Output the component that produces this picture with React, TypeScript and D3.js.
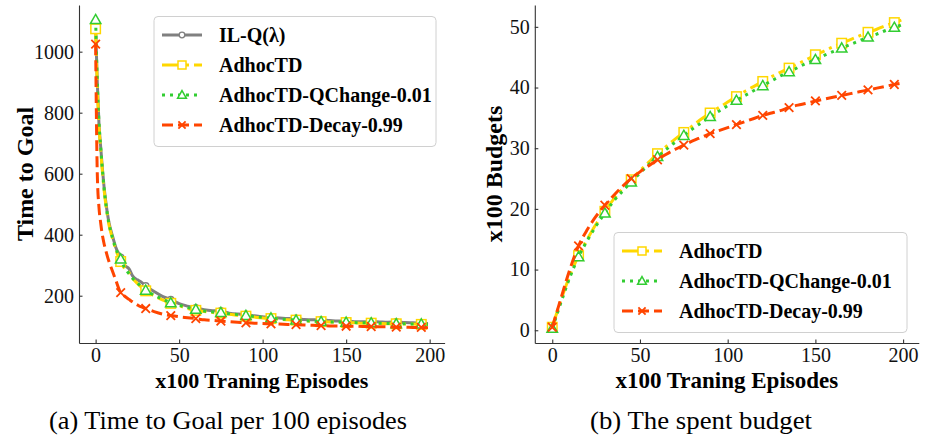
import * as React from "react";
import * as d3 from "d3";

// x100 training episodes
const episodesA: number[] = [0, 1, 2, 3, 4, 5, 6, 7, 8, 10, 12, 15, 17, 20, 22, 25, 27, 30, 35, 40, 45, 50, 55, 60, 65, 70, 75, 80, 85, 90, 95, 100, 105, 110, 115, 120, 125, 130, 135, 140, 145, 150, 155, 160, 165, 170, 175, 180, 185, 190, 195, 199];
const ilqTime: number[] = [1080, 900, 765, 690, 620, 560, 512, 472, 440, 398, 360, 326, 302, 288, 266, 252, 246, 232, 214, 198, 187, 174, 166, 160, 154, 151, 150, 143, 140, 139, 134, 131, 128, 127, 125, 126, 122, 121, 121, 119, 117, 117, 115, 115, 115, 114, 113, 114, 112, 111, 110, 109];
const adhocTime: number[] = [1075, 890, 755, 680, 610, 550, 503, 465, 432, 390, 352, 312, 292, 276, 258, 240, 230, 216, 200, 186, 175, 167, 158, 152, 148, 145, 143, 139, 136, 133, 130, 127, 125, 123, 121, 120, 118, 116, 115, 114, 113, 112, 111, 110, 110, 109, 108, 108, 107, 107, 106, 106];
const qchangeTime: number[] = [1105, 905, 770, 690, 618, 556, 507, 468, 436, 392, 356, 320, 296, 272, 258, 242, 232, 218, 202, 189, 177, 169, 161, 155, 150, 147, 145, 141, 138, 135, 132, 129, 127, 124, 122, 120, 118, 117, 115, 114, 114, 113, 112, 111, 111, 110, 109, 108, 108, 107, 107, 106];
const decayTime: number[] = [1025, 600, 490, 440, 400, 372, 350, 330, 312, 282, 252, 210, 200, 188, 180, 170, 164, 158, 148, 140, 135, 131, 128, 125, 121, 119, 117, 115, 113, 111, 110, 109, 108, 107, 106, 105, 104, 103, 102, 101, 101, 100, 100, 99, 99, 98, 98, 97, 97, 96, 96, 95];

// right panel
const episodesB: number[] = [0, 5, 10, 15, 20, 25, 30, 35, 40, 45, 50, 55, 60, 65, 70, 75, 80, 85, 90, 95, 100, 105, 110, 115, 120, 125, 130, 135, 140, 145, 150, 155, 160, 165, 170, 175, 180, 185, 190, 195, 199];
const adhocBudget: number[] = [0.5, 5.0, 9.0, 12.3, 15.0, 17.5, 19.6, 21.6, 23.3, 24.8, 26.3, 27.7, 29.1, 30.3, 31.5, 32.6, 33.7, 34.8, 35.8, 36.7, 37.6, 38.5, 39.4, 40.2, 41.0, 41.8, 42.5, 43.2, 43.9, 44.6, 45.4, 46.0, 46.7, 47.3, 47.9, 48.5, 49.1, 49.6, 50.2, 50.7, 51.1];
const qchangeBudget: number[] = [0.3, 4.6, 8.7, 12.1, 14.8, 17.2, 19.3, 21.3, 22.9, 24.4, 25.9, 27.3, 28.6, 29.8, 31.0, 32.1, 33.2, 34.2, 35.2, 36.1, 37.0, 37.9, 38.7, 39.5, 40.3, 41.1, 41.9, 42.6, 43.3, 44.0, 44.6, 45.3, 45.9, 46.5, 47.1, 47.7, 48.3, 48.8, 49.4, 49.9, 50.3];
const decayBudget: number[] = [0.5, 5.3, 10.0, 13.9, 16.6, 18.8, 20.6, 22.2, 23.7, 25.0, 26.1, 27.1, 28.1, 29.0, 29.8, 30.5, 31.2, 31.8, 32.4, 32.9, 33.4, 33.9, 34.4, 34.9, 35.4, 35.8, 36.2, 36.7, 37.1, 37.4, 37.8, 38.1, 38.4, 38.7, 39.0, 39.3, 39.6, 39.9, 40.2, 40.5, 40.7];

const xTicks: number[] = [0, 50, 100, 150, 200];
const timeTicks: number[] = [200, 400, 600, 800, 1000];
const budgetTicks: number[] = [0, 10, 20, 30, 40, 50];

type Marker = "circle" | "square" | "triangle" | "cross";

interface Series {
  name: string;
  color: string;
  dash: string | null;
  marker: Marker;
  values: number[];
}

const FONT = "Liberation Serif, Tinos, Times New Roman, DejaVu Serif, serif";

const seriesA: Series[] = [
  { name: "IL-Q(λ)", color: "#808080", dash: null, marker: "circle", values: ilqTime },
  { name: "AdhocTD", color: "#FFD700", dash: "19,5,3,5", marker: "square", values: adhocTime },
  { name: "AdhocTD-QChange-0.01", color: "#32CD32", dash: "3,5", marker: "triangle", values: qchangeTime },
  { name: "AdhocTD-Decay-0.99", color: "#FF4500", dash: "11,5", marker: "cross", values: decayTime }
];

const seriesB: Series[] = [
  { name: "AdhocTD", color: "#FFD700", dash: "19,5,3,5", marker: "square", values: adhocBudget },
  { name: "AdhocTD-QChange-0.01", color: "#32CD32", dash: "3,5", marker: "triangle", values: qchangeBudget },
  { name: "AdhocTD-Decay-0.99", color: "#FF4500", dash: "11,5", marker: "cross", values: decayBudget }
];

type G = d3.Selection<SVGGElement, unknown, null, undefined>;

function drawMarker(g: G, kind: Marker, x: number, y: number, color: string, s: number): void {
  if (kind === "circle") {
    g.append("circle").attr("cx", x).attr("cy", y).attr("r", s * 0.4)
      .attr("fill", "white").attr("stroke", color).attr("stroke-width", 1.3);
  } else if (kind === "square") {
    g.append("rect").attr("x", x - s / 2).attr("y", y - s / 2).attr("width", s).attr("height", s)
      .attr("fill", "white").attr("stroke", color).attr("stroke-width", 1.5);
  } else if (kind === "triangle") {
    const h: number = s * 0.55;
    g.append("path")
      .attr("d", `M${x},${y - h} L${x + h},${y + h * 0.75} L${x - h},${y + h * 0.75} Z`)
      .attr("fill", "white").attr("stroke", color).attr("stroke-width", 1.5);
  } else {
    const h: number = s * 0.45;
    g.append("path")
      .attr("d", `M${x - h},${y - h} L${x + h},${y + h} M${x - h},${y + h} L${x + h},${y - h}`)
      .attr("fill", "none").attr("stroke", color).attr("stroke-width", 1.8);
  }
}

interface PanelSpec {
  xs: number[];
  series: Series[];
  xRange: [number, number];
  yDomain: [number, number];
  yTicks: number[];
  yLabel: string;
  yLabelX: number;
  xLabelSize: number;
  legend: { x: number; y: number; w: number; h: number };
  caption: string;
  captionX: number;
  captionLen: number;
}

function drawPanel(svg: d3.Selection<SVGSVGElement, unknown, null, undefined>, p: PanelSpec): void {
  const top: number = 5;
  const bottom: number = 343;
  const x = d3.scaleLinear().domain([-9.95, 208.95]).range(p.xRange);
  const y = d3.scaleLinear().domain(p.yDomain).range([bottom, top]);
  const g: G = svg.append("g");

  // lines + markers
  p.series.forEach((s: Series) => {
    const pts: [number, number][] = p.xs.map((v: number, i: number) => [v, s.values[i]]);
    const line = d3.line<[number, number]>().x((d) => x(d[0])).y((d) => y(d[1])).curve(d3.curveMonotoneX);
    g.append("path").attr("d", line(pts) as string)
      .attr("fill", "none").attr("stroke", s.color).attr("stroke-width", 3)
      .attr("stroke-dasharray", s.dash)
      .attr("stroke-linejoin", "round");
    pts.filter((d) => d[0] % 15 === 0).forEach((d) => {
      drawMarker(g, s.marker, x(d[0]), y(d[1]), s.color, s.marker === "circle" ? 8 : 9.5);
    });
  });

  // axes
  const xAxis = d3.axisBottom(x).tickValues(xTicks).tickFormat(d3.format("d"))
    .tickSizeInner(-3.5).tickSizeOuter(0).tickPadding(5);
  const yAxis = d3.axisLeft(y).tickValues(p.yTicks).tickFormat(d3.format("d"))
    .tickSizeInner(-3.5).tickSizeOuter(0).tickPadding(5);
  const ax = g.append("g").attr("transform", `translate(0,${bottom})`).call(xAxis);
  const ay = g.append("g").attr("transform", `translate(${p.xRange[0]},0)`).call(yAxis);
  [ax, ay].forEach((a) => {
    a.attr("font-family", null);
    a.selectAll("path, line").attr("stroke", "#333").attr("stroke-width", 1.1);
    a.selectAll("text").style("font-family", FONT).style("font-size", "20px").attr("fill", "#111");
  });

  const cx: number = (p.xRange[0] + p.xRange[1]) / 2;
  g.append("text").attr("x", cx).attr("y", 388).attr("text-anchor", "middle")
    .style("font-family", FONT).style("font-weight", "bold").style("font-size", `${p.xLabelSize}px`)
    .text("x100 Traning Episodes");
  g.append("text").attr("transform", `translate(${p.yLabelX},${(top + bottom) / 2}) rotate(-90)`)
    .attr("text-anchor", "middle")
    .style("font-family", FONT).style("font-weight", "bold").style("font-size", "24px")
    .text(p.yLabel);

  // legend
  const L = p.legend;
  const lg: G = g.append("g");
  lg.append("rect").attr("x", L.x).attr("y", L.y).attr("width", L.w).attr("height", L.h)
    .attr("rx", 4).attr("fill", "white").attr("fill-opacity", 0.8)
    .attr("stroke", "#d0d0d0").attr("stroke-width", 1);
  p.series.forEach((s: Series, i: number) => {
    const ry: number = L.y + 18.5 + i * 30;
    const hx: number = L.x + 8;
    lg.append("line").attr("x1", hx).attr("x2", hx + 40).attr("y1", ry).attr("y2", ry)
      .attr("stroke", s.color).attr("stroke-width", 3).attr("stroke-dasharray", s.dash);
    drawMarker(lg, s.marker, hx + 20, ry, s.color, s.marker === "circle" ? 7 : 8);
    lg.append("text").attr("x", hx + 57).attr("y", ry).attr("dy", "0.35em")
      .style("font-family", FONT).style("font-weight", "bold").style("font-size", "20px")
      .text(s.name);
  });

  svg.append("text").attr("x", p.captionX).attr("y", 429).attr("text-anchor", "middle")
    .style("font-family", FONT).style("font-size", "25px")
    .attr("textLength", p.captionLen).attr("lengthAdjust", "spacingAndGlyphs")
    .text(p.caption);
}

export default class App extends React.PureComponent {
  private ref: React.RefObject<SVGSVGElement | null> = React.createRef<SVGSVGElement>();

  public componentDidMount(): void {
    this.drawChart();
  }

  public render(): JSX.Element {
    return <svg ref={this.ref} width={926} height={438}
      style={{ position: "absolute", left: 0, top: 0, background: "white" }} />;
  }

  private drawChart(): void {
    if (!this.ref.current) return;
    const svg = d3.select(this.ref.current);
    svg.selectAll("*").remove();

    drawPanel(svg, {
      xs: episodesA,
      series: seriesA,
      xRange: [79, 444.6],
      yDomain: [45, 1153],
      yTicks: timeTicks,
      yLabel: "Time to Goal",
      yLabelX: 33,
      xLabelSize: 22,
      legend: { x: 154, y: 16.5, w: 282, h: 130 },
      caption: "(a) Time to Goal per 100 episodes",
      captionX: 228,
      captionLen: 358
    });

    drawPanel(svg, {
      xs: episodesB,
      series: seriesB,
      xRange: [534.8, 918.8],
      yDomain: [-2.1, 53.6],
      yTicks: budgetTicks,
      yLabel: "x100 Budgets",
      yLabelX: 502,
      xLabelSize: 23,
      legend: { x: 614, y: 232.5, w: 293, h: 100 },
      caption: "(b) The spent budget",
      captionX: 701,
      captionLen: 222
    });
  }
}
